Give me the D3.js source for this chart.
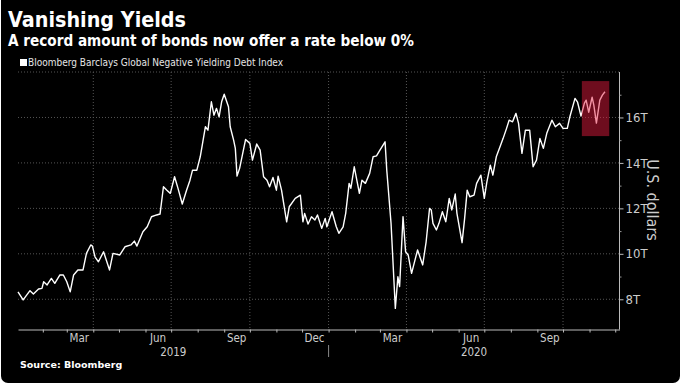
<!DOCTYPE html>
<html><head><meta charset="utf-8">
<script src="https://cdn.jsdelivr.net/npm/d3@7"></script>
<style>html,body{margin:0;padding:0;background:#fff;}svg{display:block}</style>
</head><body><svg id="c" width="681" height="387"></svg>
<script>
// ---- data ----
const dates = [
"2019-01-03","2019-01-09","2019-01-17","2019-01-21","2019-01-27","2019-01-31","2019-02-02","2019-02-06","2019-02-11","2019-02-15",
"2019-02-21","2019-02-25","2019-03-01","2019-03-05","2019-03-09","2019-03-14","2019-03-20","2019-03-24","2019-03-29","2019-03-31",
"2019-04-03","2019-04-07","2019-04-13","2019-04-20","2019-04-24","2019-05-02","2019-05-08","2019-05-15","2019-05-19","2019-05-22",
"2019-05-29","2019-06-03","2019-06-08","2019-06-14","2019-06-18","2019-06-22","2019-06-26","2019-06-30","2019-07-05","2019-07-09",
"2019-07-14","2019-07-19","2019-07-23","2019-07-26","2019-07-31","2019-08-04","2019-08-07","2019-08-10","2019-08-13","2019-08-17",
"2019-08-20","2019-08-23","2019-08-26","2019-08-29","2019-09-01","2019-09-06","2019-09-08","2019-09-12","2019-09-14","2019-09-16",
"2019-09-19","2019-09-23","2019-09-26","2019-10-01","2019-10-04","2019-10-09","2019-10-13","2019-10-17","2019-10-21","2019-10-24",
"2019-10-28","2019-11-01","2019-11-03","2019-11-07","2019-11-13","2019-11-16","2019-11-23","2019-11-29","2019-12-02","2019-12-04",
"2019-12-08","2019-12-12","2019-12-16","2019-12-19","2019-12-24","2019-12-28","2019-12-30","2020-01-05","2020-01-10","2020-01-13",
"2020-01-18","2020-01-21","2020-01-25","2020-01-27","2020-01-31","2020-02-03","2020-02-06","2020-02-09","2020-02-13","2020-02-18",
"2020-02-22","2020-02-26","2020-03-01","2020-03-07","2020-03-09","2020-03-14","2020-03-19","2020-03-22","2020-03-24","2020-03-28",
"2020-03-31","2020-04-03","2020-04-07","2020-04-14","2020-04-20","2020-04-24","2020-04-28","2020-04-30","2020-05-02","2020-05-06",
"2020-05-09","2020-05-13","2020-05-17","2020-05-21","2020-05-24","2020-05-28","2020-05-30","2020-06-05","2020-06-08","2020-06-11",
"2020-06-14","2020-06-19","2020-06-22","2020-06-27","2020-07-01","2020-07-04","2020-07-08","2020-07-11","2020-07-15","2020-07-20",
"2020-07-23","2020-07-27","2020-07-30","2020-08-03","2020-08-07","2020-08-10","2020-08-14","2020-08-18","2020-08-23","2020-08-27",
"2020-08-31","2020-09-04","2020-09-08","2020-09-12","2020-09-18","2020-09-22","2020-09-27","2020-10-01","2020-10-06","2020-10-09",
"2020-10-15","2020-10-18","2020-10-22","2020-10-26","2020-10-28","2020-10-31","2020-11-04","2020-11-06","2020-11-09","2020-11-13",
"2020-11-16","2020-11-19"];
const values = [
8.33,7.97,8.38,8.23,8.45,8.48,8.77,8.63,8.92,8.70,
9.07,9.07,8.77,8.33,9.07,9.29,9.29,10.02,10.39,10.34,
9.87,9.65,10.09,9.29,10.02,9.95,10.31,10.39,10.56,10.34,
10.97,11.19,11.63,11.71,11.75,12.95,12.80,12.66,13.39,12.88,
12.19,12.80,13.24,13.68,13.68,14.27,14.93,15.59,15.44,16.69,
16.10,16.40,16.03,16.69,17.02,16.47,15.59,15.00,14.64,13.42,
13.76,14.49,15.03,14.86,14.12,14.83,14.56,13.39,13.24,12.95,
13.36,12.80,13.42,12.80,11.41,12.07,12.44,12.58,11.41,11.78,
11.31,11.63,11.49,11.71,11.12,11.56,11.19,11.85,11.19,10.90,
11.19,11.78,13.10,12.88,13.83,13.24,12.66,13.24,13.10,13.54,
14.27,14.31,14.56,14.93,13.68,11.34,7.60,8.99,8.56,11.63,
10.09,9.95,9.14,10.17,9.51,10.53,12.00,11.93,11.34,11.05,
11.34,11.85,11.41,12.44,11.93,12.63,11.78,10.49,11.56,12.80,
12.51,12.58,13.10,13.46,12.44,13.17,13.90,13.46,14.27,14.78,
15.08,15.52,15.88,15.81,16.18,15.74,14.42,15.44,15.44,13.83,
14.12,15.08,14.64,15.30,15.88,15.59,15.74,15.52,15.52,16.03,
16.84,16.67,16.06,16.63,16.76,16.23,16.89,16.54,15.75,16.76,
16.98,17.13];
const yTicks = [8, 10, 12, 14, 16];
const yMinorTicks = [9, 11, 13, 15, 17];
const yTickLabels = ["8T", "10T", "12T", "14T", "16T"];
const monthLabelDates = ["2019-03-15","2019-06-15","2019-09-15","2019-12-15","2020-03-15","2020-06-15","2020-09-15"];
const monthLabels = ["Mar","Jun","Sep","Dec","Mar","Jun","Sep"];
const yearLabels = ["2019", "2020"];
const highlightDates = ["2020-10-23", "2020-11-24"];
const highlightValues = [15.18, 17.6];
const seriesName = "Bloomberg Barclays Global Negative Yielding Debt Index";

// ---- drawing ----
const parse = d3.timeParse("%Y-%m-%d");
const data = dates.map((d, i) => ({date: parse(d), value: values[i]}));
const svg = d3.select("#c");
const L = 18, R = 619.5, T = 72, B = 329.5;
const x = d3.scaleTime().domain([parse("2019-01-03"), parse("2020-12-06")]).range([L, R]);
const y = d3.scaleLinear().domain([6.67, 18]).range([B, T]);

svg.append("rect").attr("x", 1).attr("y", -10).attr("width", 679).attr("height", 393)
  .attr("rx", 7).attr("fill", "#000");

const sans = "'DejaVu Sans', Verdana, sans-serif";
const narrow = "'Liberation Sans Narrow', 'DejaVu Sans Condensed', sans-serif";

svg.append("text").attr("x", 8).attr("y", 27).attr("fill", "#fff")
  .attr("font-family", sans).attr("font-weight", "bold").attr("font-size", 21)
  .attr("textLength", 178).attr("lengthAdjust", "spacingAndGlyphs")
  .text("Vanishing Yields");
svg.append("text").attr("x", 8).attr("y", 46).attr("fill", "#fff")
  .attr("font-family", sans).attr("font-weight", "bold").attr("font-size", 16)
  .attr("textLength", 406).attr("lengthAdjust", "spacingAndGlyphs")
  .text("A record amount of bonds now offer a rate below 0%");
svg.append("rect").attr("x", 20).attr("y", 59).attr("width", 7).attr("height", 7).attr("fill", "#fff");
svg.append("text").attr("x", 28).attr("y", 66).attr("fill", "#e6e6e6")
  .attr("font-family", narrow).attr("font-size", 10).text(seriesName);

// gridlines
const gridColor = "#555";
svg.append("g").selectAll("line").data(yTicks.concat([18])).join("line")
  .attr("x1", L).attr("x2", R).attr("y1", d => y(d)).attr("y2", d => y(d))
  .attr("stroke", gridColor).attr("stroke-dasharray", "1,2");
const quarters = d3.timeMonth.every(3).range(x.domain()[0], x.domain()[1]);
svg.append("g").selectAll("line").data(quarters).join("line")
  .attr("x1", d => x(d)).attr("x2", d => x(d)).attr("y1", T).attr("y2", B)
  .attr("stroke", gridColor).attr("stroke-dasharray", "1,2");

// bottom axis: monthly ticks
const months = d3.timeMonth.every(1).range(x.domain()[0], x.domain()[1]);
const gx = svg.append("g").attr("transform", `translate(0,${B})`)
  .call(d3.axisBottom(x).tickValues(months).tickSize(3).tickSizeOuter(0).tickFormat(""));
gx.selectAll("path,line").attr("stroke", "#bbb");
const gxl = svg.append("g").attr("transform", `translate(0,${B})`)
  .call(d3.axisBottom(x).tickValues(monthLabelDates.map(parse)).tickSize(0)
    .tickFormat((d, i) => monthLabels[i]));
gxl.select(".domain").remove();
gxl.selectAll("text").attr("fill", "#ccc").attr("font-family", narrow).attr("font-size", 11.5)
  .attr("y", 12).attr("dy", 0);

// year labels
const yearStarts = yearLabels.map(s => parse(s + "-01-01"));
yearLabels.forEach((lab, i) => {
  const a = d3.max([yearStarts[i], x.domain()[0]]);
  const bEnd = i + 1 < yearStarts.length ? yearStarts[i + 1] : x.domain()[1];
  const b = d3.min([bEnd, x.domain()[1]]);
  svg.append("text").attr("x", (x(a) + x(b)) / 2).attr("y", 356).attr("text-anchor", "middle")
    .attr("fill", "#ccc").attr("font-family", narrow).attr("font-size", 11.5).text(lab);
});
svg.append("line").attr("x1", x(yearStarts[1])).attr("x2", x(yearStarts[1]))
  .attr("y1", 345).attr("y2", 357).attr("stroke", "#888");

// right axis
const gy = svg.append("g").attr("transform", `translate(${R},0)`)
  .call(d3.axisRight(y).tickValues(yTicks).tickSize(4).tickSizeOuter(0)
    .tickFormat((d, i) => yTickLabels[i]));
gy.select(".domain").attr("d", `M0,${T}V${B}`);
gy.selectAll("path,line").attr("stroke", "#bbb");
gy.selectAll("text").attr("fill", "#ccc").attr("font-family", narrow).attr("font-size", 13).attr("x", 6);
const gym = svg.append("g").attr("transform", `translate(${R},0)`)
  .call(d3.axisRight(y).tickValues(yMinorTicks).tickSize(2).tickFormat(""));
gym.select(".domain").remove();
gym.selectAll("line").attr("stroke", "#999");
svg.append("text").attr("transform", `translate(647,200) rotate(90)`).attr("text-anchor", "middle")
  .attr("fill", "#ccc").attr("font-family", narrow).attr("font-size", 16).text("U.S. dollars");

// the series
svg.append("path").datum(data)
  .attr("d", d3.line().x(d => x(d.date)).y(d => y(d.value)))
  .attr("fill", "none").attr("stroke", "#fff").attr("stroke-width", 1.4).attr("stroke-linejoin", "round");

// highlight box
const hx = highlightDates.map(parse);
svg.append("rect").attr("x", x(hx[0])).attr("width", x(hx[1]) - x(hx[0]))
  .attr("y", y(highlightValues[1])).attr("height", y(highlightValues[0]) - y(highlightValues[1]))
  .attr("fill", "rgb(230,28,62)").attr("opacity", 0.48);

// source
svg.append("text").attr("x", 20).attr("y", 368).attr("fill", "#fff")
  .attr("font-family", sans).attr("font-weight", "bold").attr("font-size", 9.5)
  .text("Source: Bloomberg");
</script></body></html>
